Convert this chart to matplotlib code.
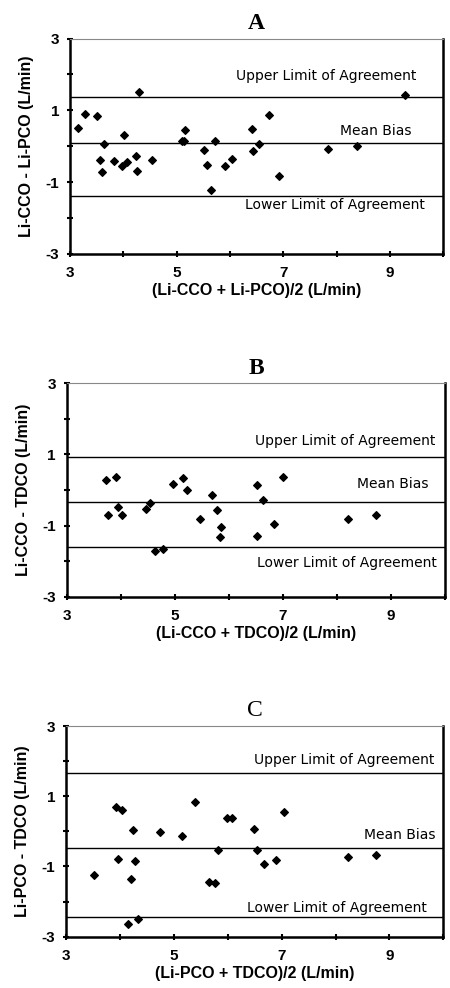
import matplotlib.pyplot as plt

# panel A: Li-CCO vs Li-PCO
a_x = [3.14, 3.28, 3.51, 3.64, 3.55, 3.59, 3.82, 3.98, 4.06, 4.01, 4.23, 4.26, 4.30, 4.54,
       5.10, 5.14, 5.16, 5.51, 5.57, 5.64, 5.71, 5.90, 6.04, 6.41, 6.43, 6.54, 6.73, 6.91,
       7.83, 8.38, 9.28]
a_y = [0.51, 0.91, 0.83, 0.06, -0.37, -0.73, -0.40, -0.55, -0.44, 0.31, -0.27, -0.69, 1.50, -0.39,
       0.14, 0.14, 0.44, -0.11, -0.51, -1.21, 0.14, -0.55, -0.36, 0.48, -0.14, 0.06, 0.86, -0.84,
       -0.09, 0.0, 1.44]
a_lines = [1.37, 0.10, -1.385]

# panel B: Li-CCO vs TDCO
b_x = [3.73, 3.76, 3.91, 3.95, 4.01, 4.46, 4.54, 4.62, 4.77, 4.97, 5.14, 5.23, 5.47, 5.69,
       5.78, 5.85, 5.83, 6.52, 6.52, 6.63, 6.83, 6.99, 8.21, 8.73]
b_y = [0.28, -0.71, 0.38, -0.48, -0.70, -0.54, -0.37, -1.72, -1.67, 0.17, 0.34, 0.0, -0.82, -0.15,
       -0.57, -1.04, -1.33, -1.28, 0.13, -0.29, -0.95, 0.38, -0.82, -0.69]
b_lines = [0.93, -0.33, -1.59]

# panel C: Li-PCO vs TDCO
c_x = [3.52, 3.92, 4.04, 3.97, 4.24, 4.27, 4.20, 4.14, 4.34, 4.74, 5.15, 5.40, 5.65, 5.77,
       5.82, 5.98, 6.07, 6.49, 6.55, 6.68, 6.90, 7.04, 8.24, 8.75]
c_y = [-1.24, 0.70, 0.62, -0.78, 0.03, -0.85, -1.36, -2.63, -2.50, -0.02, -0.13, 0.83, -1.44, -1.47,
       -0.52, 0.38, 0.38, 0.08, -0.52, -0.94, -0.81, 0.54, -0.72, -0.68]
c_lines = [1.67, -0.48, -2.45]

panels = [
    ("A", "bold", a_x, a_y, a_lines, [1.96, 0.42, -1.63], [9.5, 9.4, 9.66],
     "Li-CCO - Li-PCO (L/min)", "(Li-CCO + Li-PCO)/2 (L/min)", [0.156, 0.743, 0.829, 0.218]),
    ("B", "bold", b_x, b_y, b_lines, [1.37, 0.16, -2.06], [9.82, 9.70, 9.84],
     "Li-CCO - TDCO (L/min)", "(Li-CCO + TDCO)/2 (L/min)", [0.149, 0.396, 0.840, 0.216]),
    ("C", "normal", c_x, c_y, c_lines, [2.03, -0.09, -2.17], [9.84, 9.85, 9.70],
     "Li-PCO - TDCO (L/min)", "(Li-PCO + TDCO)/2 (L/min)", [0.147, 0.052, 0.838, 0.213]),
]
labels = ["Upper Limit of Agreement", "Mean Bias", "Lower Limit of Agreement"]

fig = plt.figure(figsize=(4.5, 9.88), dpi=100)

for title, tw, xs, ys, lines, ty, tx, ylab, xlab, pos in panels:
    ax = fig.add_axes(pos)
    for v in lines:
        ax.axhline(v, color="black", lw=1.0)
    ax.scatter(xs, ys, marker="D", s=15, color="black", zorder=3)
    for t, yy, xx in zip(labels, ty, tx):
        ax.text(xx, yy, t, ha="right", va="center", fontsize=10, family="DejaVu Sans")
    ax.set_xlim(3, 10)
    ax.set_ylim(-3, 3)
    ax.set_xticks(range(3, 11))
    ax.set_xticklabels([str(v) if v % 2 == 1 else "" for v in range(3, 11)])
    ax.set_yticks(range(-3, 4))
    ax.set_yticklabels([str(v) if v % 2 != 0 else "" for v in range(-3, 4)])
    ax.tick_params(direction="inout", length=4, width=1.5, labelsize=11)
    ax.tick_params(axis="x", pad=7)
    ax.tick_params(axis="y", pad=6)
    for lab in ax.get_xticklabels() + ax.get_yticklabels():
        lab.set_fontweight("bold")
        lab.set_family("Liberation Sans")
    for s in ["left", "bottom", "right"]:
        ax.spines[s].set_linewidth(1.8)
    ax.spines["top"].set_linewidth(0.8)
    ax.spines["top"].set_color("#888888")
    ax.set_ylabel(ylab, fontsize=11.5, fontweight="bold", family="Liberation Sans", labelpad=8)
    ax.set_xlabel(xlab, fontsize=11.5, fontweight="bold", family="Liberation Sans", labelpad=2)
    ax.set_title(title, fontsize=17, fontweight=tw, family="Liberation Serif", pad=7)

fig.savefig("out.png", dpi=100)
